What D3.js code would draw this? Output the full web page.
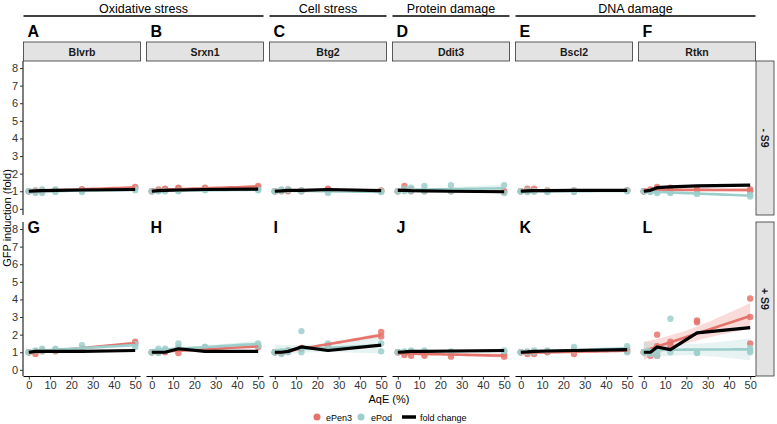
<!DOCTYPE html>
<html>
<head>
<meta charset="utf-8">
<script src="https://cdn.jsdelivr.net/npm/d3@7"></script>
<style>
body { margin: 0; background: #fff; }
text { font-family: "Liberation Sans", Arial, sans-serif; }
</style>
</head>
<body>
<svg id="chart" width="777" height="424"></svg>
<script>
// ---- data ----
var genes = ["Blvrb", "Srxn1", "Btg2", "Ddit3", "Bscl2", "Rtkn"];
var lettersTop = ["A", "B", "C", "D", "E", "F"];
var lettersBottom = ["G", "H", "I", "J", "K", "L"];
var conditions = ["- S9", "+ S9"];
var groupNames = ["Oxidative stress", "Cell stress", "Protein damage", "DNA damage"];
var groupFirst = [0, 2, 3, 4];
var groupLast = [1, 2, 3, 5];
var conc = [0, 3.125, 6.25, 12.5, 25, 50];
var xTicks = [0, 10, 20, 30, 40, 50];
var yTicks = [0, 1, 2, 3, 4, 5, 6, 7, 8];

// replicate values per concentration, one entry per gene
var pen3Minus = [
  [[1,1],[1.0,1.05],[1.0,1.05],[1.05,1.05],[1.1,1.1],[1.2,1.25]],
  [[1,1],[1.1,1.05],[1.15,1.1],[1.2,1.15],[1.2,1.15],[1.3,1.2]],
  [[1,1],[1.05,1.0],[1.1,1.0],[1.05,1.0],[1.15,1.1],[1.05,1.0]],
  [[1,1],[1.3,1.1],[1.1,1.0],[1.05,1.0],[1.05,1.0],[1.0,0.95]],
  [[1,1],[1.15,1.0],[1.15,1.0],[1.0,1.05],[1.0,1.05],[1.05,1.05]],
  [[1,1],[1.1,1.0],[1.25,1.1],[1.2,1.05],[1.1,1.05],[1.1,1.0]]
];
var podMinus = [
  [[1,1],[0.9,1.05],[0.9,1.1],[0.95,1.1],[0.95,1.05],[1.05,1.15]],
  [[1,1],[1.0,1.05],[1.0,1.05],[1.05,1.0],[1.05,1.1],[1.05,1.1]],
  [[1,1],[1.1,1.0],[1.1,1.05],[1.0,1.05],[1.0,0.9],[1.0,0.95]],
  [[1,1],[1.15,1.0],[1.2,1.0],[1.3,1.0],[1.35,1.0],[1.35,0.9]],
  [[1,1],[1.05,0.95],[1.0,1.0],[0.95,1.0],[0.95,1.05],[1.0,1.05]],
  [[1,1],[1.0,0.95],[1.0,0.9],[0.9,0.95],[0.85,0.9],[0.8,0.7]]
];
var foldMinus = [
  [1.0,1.02,1.03,1.05,1.07,1.1],
  [1.0,1.03,1.05,1.07,1.1,1.12],
  [1.0,1.02,1.05,1.05,1.1,1.03],
  [1.05,1.05,1.03,1.02,1.0,0.97],
  [1.0,1.02,1.03,1.03,1.05,1.05],
  [1.0,1.05,1.2,1.25,1.3,1.35]
];
var pen3Plus = [
  [[1,1],[0.9,1.05],[1.05,1.1],[1.1,1.05],[1.2,1.15],[1.6,1.5]],
  [[1,1],[1.0,1.05],[1.1,1.0],[0.95,1.2],[1.15,1.25],[1.35,1.3]],
  [[1,1],[1.0,0.95],[1.05,1.1],[1.2,1.25],[1.3,1.4],[2.15,1.9]],
  [[1,1],[0.85,0.95],[0.8,1.0],[0.8,0.95],[0.75,0.95],[0.75,0.9]],
  [[1,1],[0.9,1.0],[0.9,1.0],[1.0,1.05],[0.9,1.1],[1.05,1.15]],
  [[1,1],[0.8,1.0],[2.0,1.35,0.8],[1.6,1.4],[2.8,2.7],[4.05,3.0,1.5]]
];
var podPlus = [
  [[1,1],[1.05,1.1],[1.2,1.05],[1.2,1.1],[1.4,1.2],[1.45,1.3]],
  [[1,1],[1.2,0.95],[1.2,1.1],[1.5,1.3],[1.3,1.3],[1.5,1.35]],
  [[1,1],[1.05,0.9],[1.1,1.0],[2.2,1.0],[1.5,1.2],[1.5,1.05]],
  [[1,1],[1.05,1.0],[1.1,1.0],[1.1,1.0],[1.05,1.0],[1.1,1.05]],
  [[1,1],[1.05,1.0],[1.1,1.0],[1.05,1.1],[1.3,1.1],[1.35,1.0]],
  [[1,1],[0.9,1.0],[1.0,0.8],[2.9,1.0],[0.95,1.0],[1.25,1.0,1.1]]
];
var foldPlus = [
  [1.0,1.05,1.05,1.05,1.05,1.1],
  [1.0,1.0,1.0,1.2,1.05,1.05],
  [1.0,1.0,1.05,1.3,1.1,1.4],
  [1.0,1.02,1.05,1.05,1.07,1.1],
  [1.0,1.02,1.05,1.07,1.1,1.15],
  [1.0,1.0,1.3,1.15,2.1,2.4]
];

var pen3Color = "#E6736B";
var podColor = "#9CCFCB";

var svg = d3.select("#chart");

var colBand = d3.scaleBand().domain(genes).range([23.5, 755.5]).paddingInner(6 / 123).paddingOuter(0);
var rowBand = d3.scaleBand().domain(conditions).range([61, 376]).paddingInner(7 / 161).paddingOuter(0);

// points flattened
function flatten(reps) {
  var out = [];
  reps.forEach(function(vals, i) {
    vals.forEach(function(v) { out.push([conc[i], v]); });
  });
  return out;
}

// ordinary least squares + 95% band
function linFit(pts) {
  var n = pts.length;
  var mx = d3.mean(pts, function(d) { return d[0]; });
  var my = d3.mean(pts, function(d) { return d[1]; });
  var sxx = d3.sum(pts, function(d) { return (d[0] - mx) * (d[0] - mx); });
  var sxy = d3.sum(pts, function(d) { return (d[0] - mx) * (d[1] - my); });
  var b = sxy / sxx, a = my - b * mx;
  var sse = d3.sum(pts, function(d) { var r = d[1] - (a + b * d[0]); return r * r; });
  var s = Math.sqrt(sse / (n - 2));
  var t = 2.07;
  return d3.range(0, 50.01, 2.5).map(function(x) {
    var yh = a + b * x;
    var se = s * Math.sqrt(1 / n + (x - mx) * (x - mx) / sxx);
    return { x: x, y: yh, lo: yh - t * se, hi: yh + t * se };
  });
}

var defs = svg.append("defs");

conditions.forEach(function(cond, r) {
  var pen3 = r === 0 ? pen3Minus : pen3Plus;
  var pod = r === 0 ? podMinus : podPlus;
  var fold = r === 0 ? foldMinus : foldPlus;
  var y0 = rowBand(cond), h = rowBand.bandwidth();
  var y = d3.scaleLinear().domain([-0.35, 8.4]).range([y0 + h, y0]);

  genes.forEach(function(gene, c) {
    var x0 = colBand(gene), w = colBand.bandwidth();
    var x = d3.scaleLinear().domain([-2.5, 52.5]).range([x0, x0 + w]);
    var clipId = "clip" + r + "_" + c;
    defs.append("clipPath").attr("id", clipId)
      .append("rect").attr("x", x0).attr("y", y0).attr("width", w).attr("height", h);

    var g = svg.append("g").attr("clip-path", "url(#" + clipId + ")");

    var series = [
      { pts: flatten(pen3[c]), color: pen3Color },
      { pts: flatten(pod[c]), color: podColor }
    ];

    // ribbons
    series.forEach(function(s) {
      var fit = linFit(s.pts);
      s.fit = fit;
      g.append("path")
        .datum(fit)
        .attr("d", d3.area().x(function(d) { return x(d.x); })
          .y0(function(d) { return y(d.lo); }).y1(function(d) { return y(d.hi); }))
        .attr("fill", s.color)
        .attr("opacity", 0.25);
    });

    // points
    series.forEach(function(s) {
      g.selectAll(null)
        .data(s.pts)
        .join("circle")
        .attr("cx", function(d) { return x(d[0]); })
        .attr("cy", function(d) { return y(d[1]); })
        .attr("r", 3.2)
        .attr("fill", s.color)
        .attr("opacity", 0.85);
    });

    // fit lines
    series.forEach(function(s) {
      g.append("path")
        .datum(s.fit)
        .attr("d", d3.line().x(function(d) { return x(d.x); }).y(function(d) { return y(d.y); }))
        .attr("fill", "none")
        .attr("stroke", s.color)
        .attr("stroke-width", 2.6);
    });

    // fold change
    g.append("path")
      .datum(fold[c])
      .attr("d", d3.line().x(function(d, i) { return x(conc[i]); }).y(function(d) { return y(d); }))
      .attr("fill", "none")
      .attr("stroke", "#000")
      .attr("stroke-width", 3.2)
      .attr("stroke-linejoin", "round");

    // y axis on first column
    if (c === 0) {
      var ya = svg.append("g").attr("transform", "translate(" + (x0 - 0.5) + ",0)")
        .call(d3.axisLeft(y).tickValues(yTicks).tickSize(3).tickPadding(2).tickSizeOuter(0));
      ya.select(".domain").attr("d", "M0," + y0 + "V" + (y0 + h)).attr("stroke", "#000");
      ya.selectAll(".tick line").attr("stroke", "#333");
      ya.selectAll(".tick text").attr("font-size", 11).attr("fill", "#333")
        .style("font-family", "'Liberation Sans', Arial, sans-serif");
    }

    // x axis on bottom row
    if (r === 1) {
      var xa = svg.append("g").attr("transform", "translate(0," + (y0 + h + 0.5) + ")")
        .call(d3.axisBottom(x).tickValues(xTicks).tickSize(3).tickPadding(2).tickSizeOuter(0));
      xa.select(".domain").attr("d", "M" + x0 + ",0H" + (x0 + w)).attr("stroke", "#000");
      xa.selectAll(".tick line").attr("stroke", "#333");
      xa.selectAll(".tick text").attr("font-size", 11).attr("fill", "#333")
        .style("font-family", "'Liberation Sans', Arial, sans-serif");
    }

    // panel letters
    svg.append("text")
      .attr("x", x0 + 4)
      .attr("y", r === 0 ? 37 : y0 + 11)
      .attr("font-size", 16)
      .attr("font-weight", "bold")
      .attr("fill", "#000")
      .text(r === 0 ? lettersTop[c] : lettersBottom[c]);

    // top strips
    if (r === 0) {
      svg.append("rect")
        .attr("x", x0).attr("y", 42).attr("width", w).attr("height", 19)
        .attr("fill", "#E3E3E3").attr("stroke", "#333").attr("stroke-width", 0.8);
      svg.append("text")
        .attr("x", x0 + w / 2).attr("y", 55.5)
        .attr("text-anchor", "middle")
        .attr("font-size", 10.5).attr("font-weight", "bold").attr("fill", "#1a1a1a")
        .text(gene);
    }
  });

  // right strip
  var sx = 756;
  svg.append("rect")
    .attr("x", sx).attr("y", y0).attr("width", 18).attr("height", h)
    .attr("fill", "#E3E3E3").attr("stroke", "#333").attr("stroke-width", 0.8);
  svg.append("text")
    .attr("transform", "translate(" + (sx + 5) + "," + (y0 + h / 2) + ") rotate(90)")
    .attr("text-anchor", "middle")
    .attr("font-size", 10.5).attr("font-weight", "bold").attr("fill", "#1a1a1a")
    .text(cond);
});

// group headers
groupNames.forEach(function(name, i) {
  var xa = colBand(genes[groupFirst[i]]);
  var xb = colBand(genes[groupLast[i]]) + colBand.bandwidth();
  svg.append("line")
    .attr("x1", xa).attr("x2", xb).attr("y1", 16).attr("y2", 16)
    .attr("stroke", "#000").attr("stroke-width", 1.6);
  svg.append("text")
    .attr("x", (xa + xb) / 2).attr("y", 13)
    .attr("text-anchor", "middle")
    .attr("font-size", 12.5).attr("fill", "#000")
    .text(name);
});

// axis titles
svg.append("text")
  .attr("transform", "translate(11,218) rotate(-90)")
  .attr("text-anchor", "middle")
  .attr("font-size", 11).attr("fill", "#000")
  .text("GFP induction (fold)");

svg.append("text")
  .attr("x", 389).attr("y", 403)
  .attr("text-anchor", "middle")
  .attr("font-size", 11).attr("fill", "#000")
  .text("AqE (%)");

// legend
var legend = svg.append("g").attr("transform", "translate(0,417)");
legend.append("circle").attr("cx", 317).attr("cy", 0).attr("r", 3.5).attr("fill", pen3Color);
legend.append("text").attr("x", 326).attr("y", 3.5).attr("font-size", 9).text("ePen3");
legend.append("circle").attr("cx", 361).attr("cy", 0).attr("r", 3.5).attr("fill", podColor);
legend.append("text").attr("x", 371).attr("y", 3.5).attr("font-size", 9).text("ePod");
legend.append("line").attr("x1", 402).attr("x2", 416).attr("y1", 0).attr("y2", 0)
  .attr("stroke", "#000").attr("stroke-width", 3.5);
legend.append("text").attr("x", 420).attr("y", 3.5).attr("font-size", 9).text("fold change");
</script>
</body>
</html>
